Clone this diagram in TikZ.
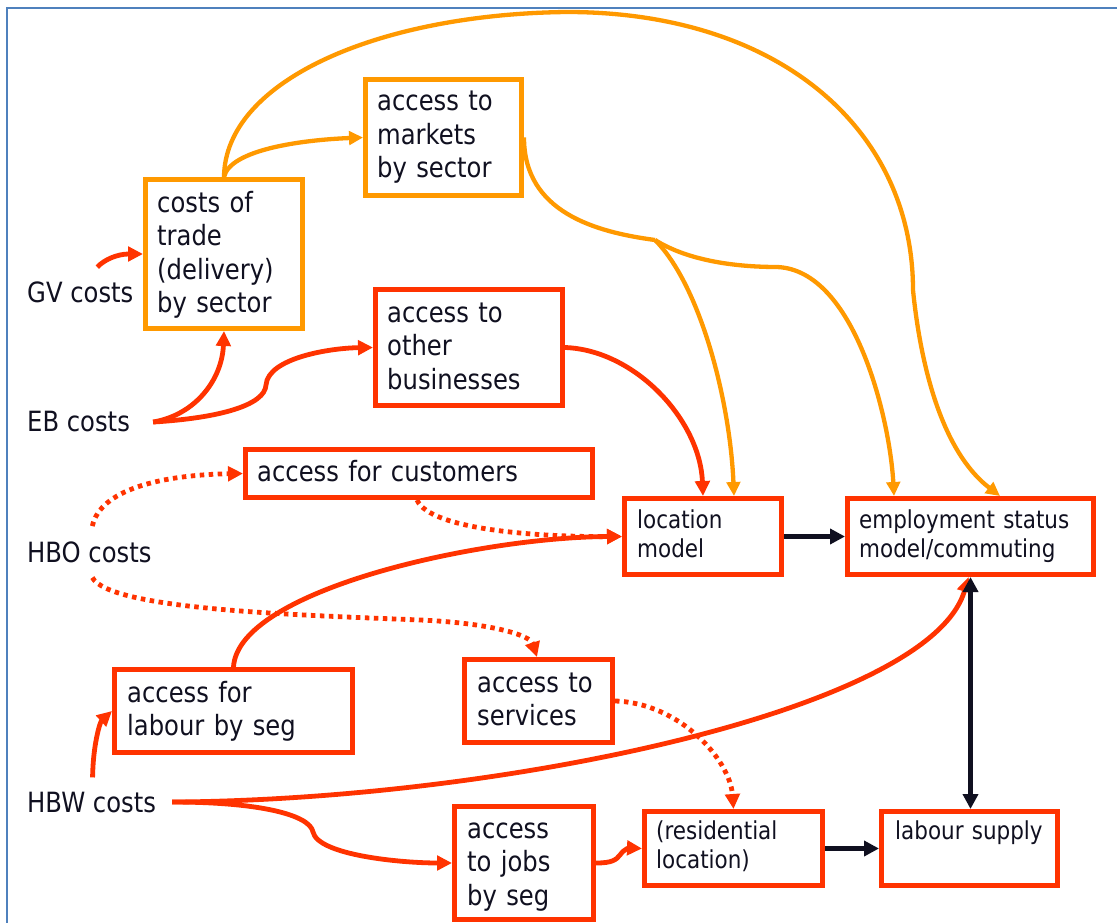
\documentclass[tikz,border=0pt]{standalone}
\usepackage{fontspec}
\setmainfont{DejaVu Sans}[FakeStretch=0.87]
\usetikzlibrary{arrows.meta,calc}
\definecolor{boxred}{RGB}{255,51,0}
\definecolor{boxorange}{RGB}{255,153,0}
\definecolor{ink}{RGB}{16,16,32}
\definecolor{frameblue}{RGB}{79,129,189}

\begin{document}
\begin{tikzpicture}[x=1pt,y=-1pt,
  box/.style={draw, line width=5pt, inner sep=0pt, fill=white},
  redbox/.style={box, draw=boxred},
  orangebox/.style={box, draw=boxorange},
  bigtext/.style={font=\fontsize{27.9}{33.5}\selectfont, text=ink, inner sep=0pt,
    anchor=base west, align=left, text width=#1},
  bigtext/.default=260pt,
  smalltext/.style={font=\fontsize{24.7}{29}\selectfont, text=ink, inner sep=0pt,
    anchor=base west, align=left, text width=#1},
  smalltext/.default=240pt,
  costtext/.style={font=\fontsize{27.9}{33.5}\selectfont, text=ink, inner sep=0pt, anchor=base west},
  redlink/.style={draw=boxred, line width=4.8pt, -{Triangle[length=15pt,width=14.5pt]}},
  dotlink/.style={draw=boxred, line width=4.8pt, dash pattern=on 4.5pt off 4.5pt,
    -{Triangle[length=15pt,width=14.5pt]}},
  orangelink/.style={draw=boxorange, line width=4.3pt, -{Triangle[length=14pt,width=13.5pt]}},
  orangeplain/.style={draw=boxorange, line width=4.3pt},
  blacklink/.style={draw=ink, line width=5pt, -{Triangle[length=15pt,width=15pt]}},
  blackboth/.style={draw=ink, line width=5pt, {Triangle[length=15pt,width=15pt]}-{Triangle[length=15pt,width=15pt]}}
]
\useasboundingbox (0,0) rectangle (1117,923);
\fill[white] (0,0) rectangle (1117,923);
\draw[frameblue, line width=2.5pt] (7,923) -- (7,8) -- (1117,8);

% cost inputs
\node[costtext] (gv)  at (27,302) {GV costs};
\node[costtext] (eb)  at (27,431) {EB costs};
\node[costtext] (hbo) at (27,562) {HBO costs};
\node[costtext] (hbw) at (27,812) {HBW costs};

% boxes
\node[orangebox, minimum width=157pt, minimum height=149pt] (trade)   at (224,254) {};
\node[orangebox, minimum width=156pt, minimum height=116pt] (markets) at (443.5,137.5) {};
\node[redbox, minimum width=187pt, minimum height=116pt] (biz)  at (469,347.5) {};
\node[redbox, minimum width=347pt, minimum height=48pt]  (cust) at (419,473.5) {};
\node[redbox, minimum width=157pt, minimum height=76pt]  (loc)  at (703,536.5) {};
\node[redbox, minimum width=246pt, minimum height=76pt]  (emp)  at (970.5,536.5) {};
\node[redbox, minimum width=238pt, minimum height=83pt]  (lab)  at (233.5,711) {};
\node[redbox, minimum width=148pt, minimum height=83pt]  (serv) at (538.5,701) {};
\node[redbox, minimum width=139pt, minimum height=113pt] (jobs) at (524,863) {};
\node[redbox, minimum width=178pt, minimum height=74pt]  (res)  at (733.5,848.5) {};
\node[redbox, minimum width=176pt, minimum height=74pt]  (sup)  at (969.5,848.5) {};

% box texts
\node[bigtext=150pt] (tradeT)   at (157,212) {costs of\\trade\\(delivery)\\by sector};
\node[bigtext=150pt] (marketsT) at (377,111) {access to\\markets\\by sector};
\node[bigtext=180pt] (bizT)     at (387,322) {access to\\other\\businesses};
\node[bigtext=340pt] (custT)    at (257,481) {access for customers};
\node[smalltext=150pt] (locT)   at (637,528) {location\\model};
\node[smalltext=240pt] (empT)   at (859,528) {employment status\\model/commuting};
\node[bigtext=230pt] (labT)     at (127,702) {access for\\labour by seg};
\node[bigtext=140pt] (servT)    at (477,692) {access to\\services};
\node[bigtext=130pt] (jobsT)    at (467,838) {access\\to jobs\\by seg};
\node[smalltext=170pt] (resT)   at (656,839) {(residential\\location)};
\node[smalltext=170pt] (supT)   at (895,839) {labour supply};

% goods vehicle and business costs
\draw[redlink] ($(gv.north)+(17,-14)$) .. controls (105,259) and (118,254) .. (trade.west);
\draw[redlink] ($(eb.east)+(23,1)$) .. controls (195,415) and (222,380) .. (trade.south);
\draw[redlink] ($(eb.east)+(23,1)$) .. controls (220,418) and (265,405) .. (266,385)
  .. controls (268,358) and (330,348) .. (biz.west);
\draw[redlink] (biz.east) .. controls (635,350) and (700,420) .. (loc.north);

% trade costs feeding markets and models
\coordinate (mj) at (655,240);
\draw[orangeplain] (markets.east) .. controls (524,212) and (595,232) .. (mj);
\draw[orangelink] (mj) .. controls (700,285) and (730,400) .. ($(loc.north)+(31,0)$);
\draw[orangelink] (mj) .. controls (690,262) and (740,267) .. (777,267)
  .. controls (855,270) and (890,420) .. ($(emp.north)+(-76.5,0)$);
\draw[orangelink] (trade.north) .. controls (230,150) and (300,140) .. (markets.west);
\draw[orangelink] (trade.north) .. controls (225,80) and (380,14) .. (567,12)
  .. controls (780,12) and (913,130) .. (913,290)
  .. controls (920,360) and (940,450) .. ($(emp.north)+(29.5,0)$);

% home-based other costs
\draw[dotlink] ($(hbo.north)+(3,-15)$) .. controls (100,490) and (160,475) .. (cust.west);
\draw[dotlink] ($(hbo.south)+(3,15)$) .. controls (110,610) and (300,615) .. (420,620)
  .. controls (490,623) and (530,635) .. ($(serv.north)+(-1.5,0)$);
\draw[dotlink] ($(cust.south)+(-2,0)$) .. controls (430,530) and (540,537) .. (loc.west);
\draw[redlink] (lab.north) .. controls (238,590) and (480,537) .. (loc.west);
\draw[dotlink] (serv.east) .. controls (680,703) and (730,760) .. (res.north);

% home-based work costs
\draw[redlink] ($(hbw.north)+(1,-14)$) .. controls (93,745) and (100,722) .. (lab.west);
\draw[redlink] ($(hbw.east)+(16,0)$) .. controls (500,800) and (930,710) .. ($(emp.south)+(-2,0)$);
\draw[redlink] ($(hbw.east)+(16,0)$) .. controls (260,802) and (310,815) .. (313,832)
  .. controls (318,855) and (400,863) .. (jobs.west);
\draw[redlink] (jobs.east) .. controls (612,863) and (616,860) .. (620,855)
  .. controls (625,848) and (630,848) .. (res.west);

% model links
\draw[blacklink] (loc.east) -- (emp.west);
\draw[blackboth] (emp.south) -- (emp.south |- sup.north);
\draw[blacklink] (res.east) -- (sup.west);
\end{tikzpicture}
\end{document}
